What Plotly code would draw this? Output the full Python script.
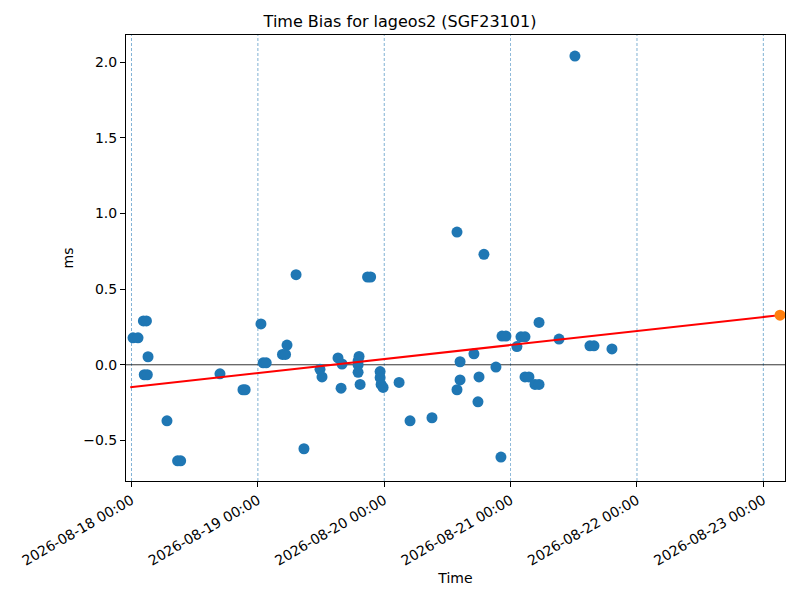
import plotly.graph_objects as go

# observed time bias, ms
obs_time = [
    "2026-08-18 00:17", "2026-08-18 01:14", "2026-08-18 02:15", "2026-08-18 02:50",
    "2026-08-18 03:08", "2026-08-18 02:25", "2026-08-18 03:00", "2026-08-18 06:44",
    "2026-08-18 08:45", "2026-08-18 09:20", "2026-08-18 16:48", "2026-08-18 21:10",
    "2026-08-18 21:35", "2026-08-19 00:35", "2026-08-19 01:00", "2026-08-19 01:35",
    "2026-08-19 04:40", "2026-08-19 05:15", "2026-08-19 05:32", "2026-08-19 07:15",
    "2026-08-19 08:45", "2026-08-19 11:48", "2026-08-19 12:11", "2026-08-19 15:13",
    "2026-08-19 15:59", "2026-08-19 15:48", "2026-08-19 19:13", "2026-08-19 19:02",
    "2026-08-19 19:02", "2026-08-19 19:02", "2026-08-19 19:25", "2026-08-19 20:50",
    "2026-08-19 21:25", "2026-08-19 23:13", "2026-08-19 23:13", "2026-08-19 23:24",
    "2026-08-19 23:47", "2026-08-20 02:49", "2026-08-20 04:54", "2026-08-20 09:04",
    "2026-08-20 13:49", "2026-08-20 14:24", "2026-08-20 14:24", "2026-08-20 13:49",
    "2026-08-20 17:02", "2026-08-20 18:00", "2026-08-20 17:48", "2026-08-20 18:56",
    "2026-08-20 21:13", "2026-08-20 22:10", "2026-08-20 22:22", "2026-08-20 23:07",
    "2026-08-21 01:12", "2026-08-21 01:58", "2026-08-21 02:44", "2026-08-21 02:44",
    "2026-08-21 03:29", "2026-08-21 04:38", "2026-08-21 05:24", "2026-08-21 05:24",
    "2026-08-21 09:12", "2026-08-21 12:13", "2026-08-21 15:04", "2026-08-21 15:50",
    "2026-08-21 19:15",
]
obs_bias = [
    0.178, 0.178, 0.29, 0.29,
    0.053, -0.066, -0.066, -0.37,
    -0.635, -0.635, -0.06, -0.165,
    -0.165, 0.27, 0.013, 0.013,
    0.068, 0.068, 0.13, 0.595,
    -0.555, -0.03, -0.08, 0.045,
    0.005, -0.155, 0.055, 0.025,
    0.0, -0.05, -0.13, 0.58,
    0.58, -0.045, -0.085, -0.13,
    -0.15, -0.117, -0.37, -0.35,
    0.877, 0.02, -0.10, -0.165,
    0.072, -0.08, -0.245, 0.73,
    -0.015, -0.61, 0.19, 0.19,
    0.12, 0.185, 0.185, -0.08,
    -0.08, -0.13, -0.13, 0.28,
    0.17, 2.04, 0.125, 0.125,
    0.105,
]

# linear fit and predicted value
fit_time = ["2026-08-17 23:45", "2026-08-23 03:10"]
fit_bias = [-0.149, 0.328]
pred_time = ["2026-08-23 03:10"]
pred_bias = [0.328]

days = ["2026-08-18", "2026-08-19", "2026-08-20", "2026-08-21", "2026-08-22", "2026-08-23"]
day_labels = [d + " 00:00" for d in days]

fig = go.Figure()
fig.add_trace(go.Scatter(x=obs_time, y=obs_bias, mode="markers",
                         marker=dict(color="#1f77b4", size=11)))
fig.add_trace(go.Scatter(x=fit_time, y=fit_bias, mode="lines",
                         line=dict(color="red", width=2)))
fig.add_trace(go.Scatter(x=pred_time, y=pred_bias, mode="markers",
                         marker=dict(color="#ff7f0e", size=11)))

for d in days:
    fig.add_vline(x=d, line=dict(color="#1f77b4", width=0.7, dash="3px,2px"),
                  opacity=0.8, layer="below")
fig.add_hline(y=0, line=dict(color="black", width=0.8), layer="below")

axis_style = dict(showgrid=False, zeroline=False, showline=True, linecolor="black",
                  linewidth=1, mirror=True, ticks="outside", ticklen=5,
                  tickcolor="black", tickfont=dict(size=14, color="black"),
                  automargin=False)

fig.update_layout(
    width=800, height=600,
    title=dict(text="Time Bias for lageos2 (SGF23101)", x=0.5, xanchor="center",
               y=0.965, yanchor="middle", font=dict(size=16, color="black")),
    font=dict(family="DejaVu Sans", color="black"),
    plot_bgcolor="white", paper_bgcolor="white",
    showlegend=False,
    margin=dict(l=126, r=15, t=35, b=119),
    xaxis=dict(axis_style, type="date", range=["2026-08-17 22:57", "2026-08-23 04:07"],
               tickvals=days, ticktext=day_labels, tickangle=-30,
               title=dict(text="Time", font=dict(size=14), standoff=5)),
    yaxis=dict(axis_style, range=[-0.768, 2.179], tickvals=[-0.5, 0, 0.5, 1.0, 1.5, 2.0],
               ticktext=["\u22120.5", "0.0", "0.5", "1.0", "1.5", "2.0"],
               title=dict(text="ms", font=dict(size=14), standoff=6)),
)

# drop the browser's default page margin so the figure sits at the window corner
fig.write_html("out.html", config={"displayModeBar": False},
               post_script="document.body.style.margin='0';")
